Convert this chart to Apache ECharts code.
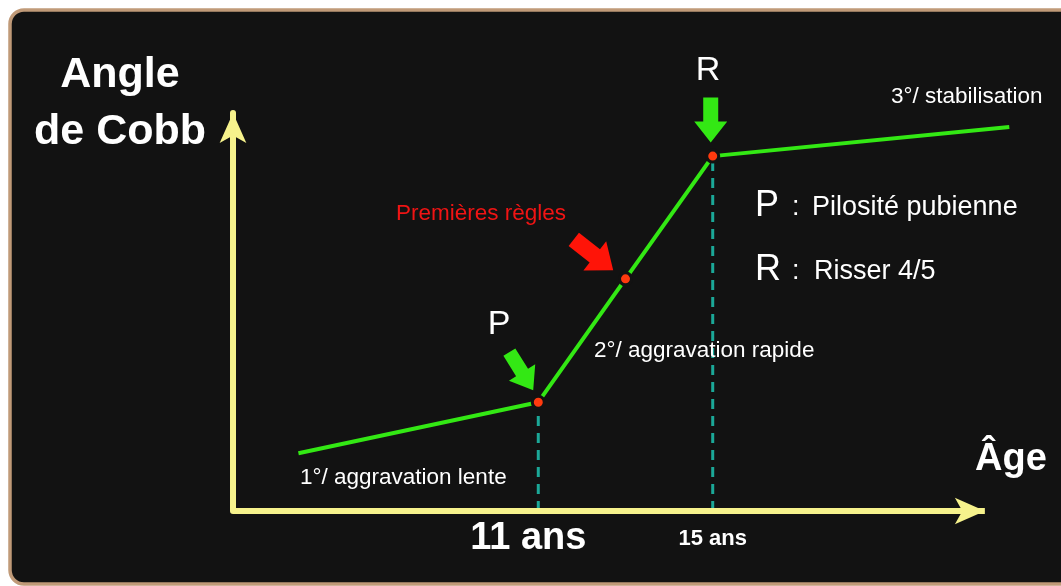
<!DOCTYPE html>
<html>
<head>
<meta charset="utf-8">
<title>Angle de Cobb</title>
<script src="https://cdn.jsdelivr.net/npm/echarts@6/dist/echarts.min.js"></script>
<style>
html, body { margin: 0; padding: 0; background: #fff; }
#chart { width: 1061px; height: 586px; }
</style>
</head>
<body>
<div id="chart"></div>
<script>
// courbe : age (ans) / angle de Cobb (echelle arbitraire)
var ages = [5.5, 11, 13, 15, 21.8];
var angles = [8.7, 16.4, 35, 53.5, 57.9];

// points reperes : P (pilosite), premieres regles, R (Risser 4/5)
var keyAges = [11, 13, 15];
var keyAngles = [16.4, 35, 53.5];

// graduations de l'axe des ages
var tickAges = [11, 15];
var tickLabels = ['11 ans', '15 ans'];

// l'axe des ages s'arrete (fleche) un peu avant la fin de la courbe
var ageAxisEnd = 21.24;

var FONT = 'Liberation Sans';
var YELLOW = '#f6f28c';
var GREEN = '#33e814';
var ARROW = 'path://M9,0L24,0L24,24L33,24L16.5,45L0,24L9,24Z';

var curve = ages.map(function (a, i) { return [a, angles[i]]; });
var dots = keyAges.map(function (a, i) { return [a, keyAngles[i]]; });

// fleches qui pointent vers les reperes
var arrowStyle = [
    { size: [31, 45], rotate: 32, offset: [-17, -31], color: GREEN },
    { size: [37, 50], rotate: 52, offset: [-32, -24], color: '#ff1408' },
    { size: [33, 45], rotate: 0, offset: [-2, -36], color: GREEN }
];
var pointers = dots.map(function (d, i) {
    var s = arrowStyle[i];
    return {
        value: d,
        symbolSize: s.size,
        symbolRotate: s.rotate,
        symbolOffset: s.offset,
        itemStyle: { color: s.color, opacity: 1 }
    };
});

// pointilles verticaux sous P et R
var drops = [];
tickAges.forEach(function (a) {
    var k = keyAges.indexOf(a);
    drops.push({
        type: 'line',
        data: [[a, 0], [a, keyAngles[k]]],
        showSymbol: false,
        z: 1,
        lineStyle: { color: '#1ba898', width: 3, type: [10, 7] }
    });
});

function txt(x, y, s, size, opts) {
    opts = opts || {};
    return {
        type: 'text',
        z: 50,
        style: {
            x: x, y: y, text: s,
            fill: opts.color || '#fff',
            font: (opts.bold ? 'bold ' : '') + size + 'px "' + FONT + '"',
            textAlign: opts.align || 'center',
            textVerticalAlign: 'middle'
        }
    };
}

var myChart = echarts.init(document.getElementById('chart'));

option = {
    backgroundColor: '#fff',
    animation: false,
    grid: { left: 233, right: 43, top: 113, bottom: 75 },
    xAxis: {
        type: 'value',
        min: 4,
        max: 22,
        splitLine: { show: false },
        axisTick: { show: false },
        axisLine: { show: false },
        axisLabel: {
            customValues: tickAges,
            margin: 8,
            formatter: function (v) {
                var i = tickAges.indexOf(v);
                return i === 0 ? '{big|' + tickLabels[i] + '}' : '{small|' + tickLabels[i] + '}';
            },
            rich: {
                big: { color: '#fff', fontFamily: FONT, fontWeight: 'bold', fontSize: 38, lineHeight: 40, padding: [0, 20, 0, 0] },
                small: { color: '#fff', fontFamily: FONT, fontWeight: 'bold', fontSize: 22, lineHeight: 26, padding: [14, 0, 0, 0] }
            }
        }
    },
    yAxis: {
        type: 'value',
        min: 0,
        max: 60,
        splitLine: { show: false },
        axisTick: { show: false },
        axisLabel: { show: false },
        axisLine: {
            lineStyle: { color: YELLOW, width: 6 },
            symbol: ['none', 'arrow'],
            symbolSize: [20, 30]
        }
    },
    graphic: [
        {
            type: 'rect', z: -10,
            shape: { x: 10, y: 10, width: 1080, height: 574, r: 14 },
            style: { fill: '#121212', stroke: '#c09a78', lineWidth: 3.5 }
        },
        txt(120, 75, 'Angle', 43, { bold: true }),
        txt(120, 132, 'de Cobb', 43, { bold: true }),
        txt(1011, 460, 'Âge', 38, { bold: true }),
        txt(499, 325, 'P', 34),
        txt(708, 71, 'R', 34),
        txt(481, 214, 'Premières règles', 22.5, { color: '#f01414' }),
        txt(300, 478, '1°/ aggravation lente', 22.5, { align: 'left' }),
        txt(594, 351, '2°/ aggravation rapide', 22.5, { align: 'left' }),
        txt(891, 97, '3°/ stabilisation', 22.5, { align: 'left' }),
        txt(755, 206, 'P', 36, { align: 'left' }),
        txt(792, 208, ':', 27, { align: 'left' }),
        txt(812, 208, 'Pilosité pubienne', 27, { align: 'left' }),
        txt(755, 270, 'R', 36, { align: 'left' }),
        txt(792, 272, ':', 27, { align: 'left' }),
        txt(814, 272, 'Risser 4/5', 27, { align: 'left' })
    ],
    series: [
        {
            // axe des ages avec sa fleche
            type: 'line',
            data: [],
            z: 0,
            silent: true,
            markLine: {
                silent: true,
                symbol: ['none', 'arrow'],
                symbolSize: [20, 30],
                label: { show: false },
                lineStyle: { color: YELLOW, width: 6, type: 'solid' },
                emphasis: { disabled: true },
                data: [[{ coord: [4, 0] }, { coord: [ageAxisEnd, 0] }]]
            }
        }
    ].concat(drops, [
        {
            type: 'line',
            data: curve,
            showSymbol: false,
            z: 2,
            lineStyle: { color: GREEN, width: 4 }
        },
        {
            type: 'scatter',
            data: dots,
            symbolSize: 12,
            z: 3,
            itemStyle: { color: '#ff3a0e', opacity: 1, borderColor: '#121212', borderWidth: 3 }
        },
        {
            type: 'scatter',
            data: pointers,
            symbol: ARROW,
            z: 4,
            silent: true
        }
    ])
};

myChart.setOption(option);
</script>
</body>
</html>
